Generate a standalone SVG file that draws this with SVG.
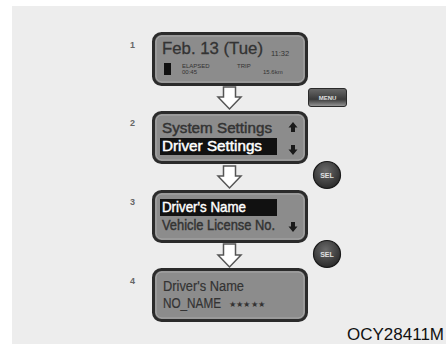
<svg xmlns="http://www.w3.org/2000/svg" width="446" height="344" viewBox="0 0 446 344">
<defs>
<radialGradient id="selg" cx="0.45" cy="0.35" r="0.7">
<stop offset="0" stop-color="#6a6a6a"/>
<stop offset="1" stop-color="#262626"/>
</radialGradient>
<linearGradient id="menug" x1="0" y1="0" x2="0" y2="1">
<stop offset="0" stop-color="#6a6a6a"/>
<stop offset="0.6" stop-color="#3a3a3a"/>
<stop offset="1" stop-color="#9a9a9a"/>
</linearGradient>
</defs>
<style>
.bg{fill:#ededed}
.disp{fill:#8c8c8c;stroke:#2b2b2b;stroke-width:3}
.inner{fill:none;stroke:#a8a8a8;stroke-width:1}
.num{font-family:"Liberation Sans",Arial,sans-serif;font-size:9px;font-weight:bold;fill:#666}
.t{font-family:"Liberation Sans",Arial,sans-serif;fill:#333}
.big{font-size:14.5px;stroke:#333;stroke-width:0.45}
.w{fill:#ffffff;stroke:#ffffff}
.sm{font-size:6px}
.hl{fill:#111}
.arr{fill:#ffffff;stroke:#555;stroke-width:1.5;stroke-linejoin:miter}
.btn{font-family:"Liberation Sans",Arial,sans-serif;font-weight:bold;fill:#e0e0e0;text-anchor:middle}
</style>
<rect class="bg" x="12" y="6" width="434" height="338"/>

<g id="node1">
<text class="num" x="130" y="48">1</text>
<rect class="disp" x="153.5" y="33.5" width="153" height="51" rx="8"/>
<rect class="inner" x="156" y="36" width="148" height="46" rx="6"/>
<text class="t" x="162" y="54" font-size="16.5" textLength="101" lengthAdjust="spacingAndGlyphs" stroke="#333" stroke-width="0.3">Feb. 13 (Tue)</text>
<text class="t" x="271" y="56" font-size="7.5">11:32</text>
<rect x="164" y="63" width="7" height="12" fill="#111"/>
<text class="t sm" x="182" y="68">ELAPSED</text>
<text class="t sm" x="182" y="74">00:45</text>
<text class="t sm" x="237" y="68">TRIP</text>
<text class="t sm" x="263" y="74">15.6km</text>
</g>

<g id="menu">
<rect x="308.5" y="88.5" width="38" height="18" rx="2.5" fill="url(#menug)" stroke="#2a2a2a" stroke-width="1"/>
<text class="btn" x="327.5" y="100" font-size="6">MENU</text>
</g>

<g id="node2">
<text class="num" x="130" y="126">2</text>
<rect class="disp" x="153.5" y="112.5" width="153" height="50" rx="8"/>
<rect class="inner" x="156" y="115" width="148" height="45" rx="6"/>
<text class="t big" x="162" y="133" textLength="110" lengthAdjust="spacingAndGlyphs">System Settings</text>
<rect class="hl" x="160" y="138" width="117" height="17"/>
<text class="t big w" x="162" y="151" textLength="100" lengthAdjust="spacingAndGlyphs">Driver Settings</text>
<path d="M293 122 L297.5 127.5 L295 127.5 L295 132 L291 132 L291 127.5 L288.5 127.5 Z" fill="#1a1a1a"/>
<path d="M293 155 L297.5 149.5 L295 149.5 L295 145 L291 145 L291 149.5 L288.5 149.5 Z" fill="#1a1a1a"/>
</g>

<g id="sel1">
<circle cx="327" cy="175" r="13.5" fill="url(#selg)" stroke="#1a1a1a" stroke-width="1.2"/>
<text class="btn" x="327" y="177.5" font-size="7">SEL</text>
</g>

<g id="node3">
<text class="num" x="130" y="205">3</text>
<rect class="disp" x="153.5" y="191.5" width="153" height="50" rx="8"/>
<rect class="inner" x="156" y="194" width="148" height="45" rx="6"/>
<rect class="hl" x="160" y="199" width="117" height="17"/>
<text class="t big w" x="162" y="212" textLength="84" lengthAdjust="spacingAndGlyphs">Driver's Name</text>
<text class="t big" x="162" y="230" textLength="113" lengthAdjust="spacingAndGlyphs">Vehicle License No.</text>
<path d="M293 232 L297.5 226.5 L295 226.5 L295 222 L291 222 L291 226.5 L288.5 226.5 Z" fill="#1a1a1a"/>
</g>

<g id="sel2">
<circle cx="327" cy="254" r="13.5" fill="url(#selg)" stroke="#1a1a1a" stroke-width="1.2"/>
<text class="btn" x="327" y="256.5" font-size="7">SEL</text>
</g>

<g id="node4">
<text class="num" x="130" y="284">4</text>
<rect class="disp" x="153.5" y="269.5" width="153" height="51" rx="8"/>
<rect class="inner" x="156" y="272" width="148" height="46" rx="6"/>
<text class="t" x="163" y="291" font-size="14" textLength="81" lengthAdjust="spacingAndGlyphs" stroke="#333" stroke-width="0.2">Driver's Name</text>
<text class="t" x="163" y="308" font-size="14" textLength="58" lengthAdjust="spacingAndGlyphs" stroke="#333" stroke-width="0.2">NO_NAME</text>
<text class="t" x="229" y="307" font-size="8" font-family="DejaVu Sans,sans-serif" textLength="36" lengthAdjust="spacingAndGlyphs">★★★★★</text>
</g>

<g id="connectors">
<path class="arr" d="M223.5 87 L235.5 87 L235.5 97 L241 97 L229.5 109 L218 97 L223.5 97 Z"/>
<path class="arr" d="M223.5 166 L235.5 166 L235.5 176 L241 176 L229.5 188 L218 176 L223.5 176 Z"/>
<path class="arr" d="M223.5 244 L235.5 244 L235.5 255 L241 255 L229.5 267 L218 255 L223.5 255 Z"/>
</g>

<text x="444" y="340" text-anchor="end" font-family="Liberation Sans,Arial,sans-serif" font-size="17" fill="#111">OCY28411M</text>
</svg>
